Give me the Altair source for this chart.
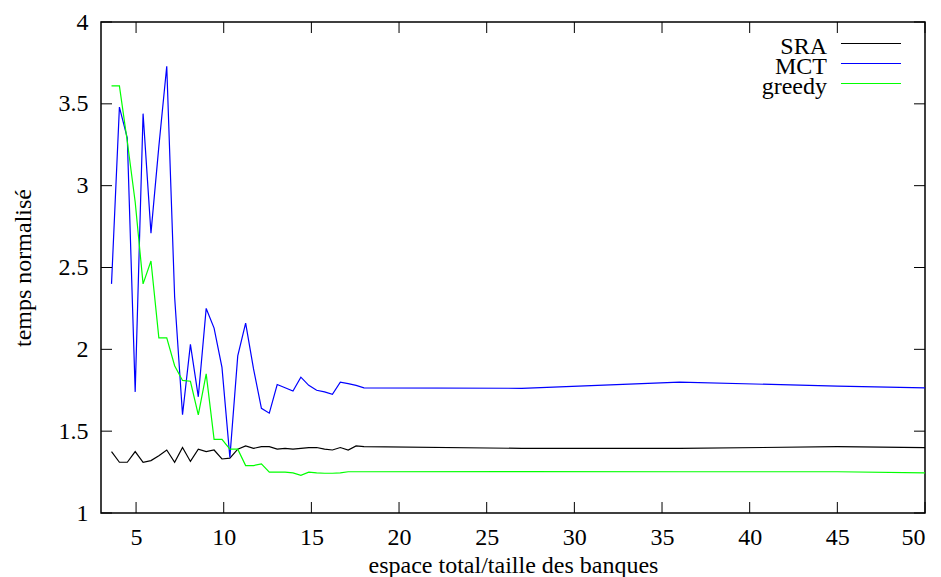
import altair as alt
import pandas as pd

# ---- data ----
x_vals = [3.6, 4.05, 4.5, 4.95, 5.4, 5.85, 6.3, 6.75, 7.2, 7.65, 8.1, 8.55, 9.0,
          9.45, 9.9, 10.35, 10.8, 11.25, 11.7, 12.15, 12.6, 13.05, 13.5, 13.95,
          14.4, 14.85, 15.3, 15.75, 16.2, 16.65, 17.1, 17.55, 18.0, 27, 36, 45, 50]

sra = [1.375, 1.31, 1.31, 1.375, 1.31, 1.32, 1.35, 1.385, 1.31, 1.40, 1.315, 1.39,
       1.375, 1.385, 1.33, 1.335, 1.39, 1.41, 1.395, 1.405, 1.405, 1.39, 1.395,
       1.39, 1.395, 1.40, 1.40, 1.39, 1.385, 1.40, 1.385, 1.41, 1.405,
       1.395, 1.395, 1.405, 1.40]

mct = [2.40, 3.48, 3.29, 1.74, 3.44, 2.71, 3.24, 3.73, 2.32, 1.60, 2.03, 1.71,
       2.25, 2.13, 1.89, 1.34, 1.96, 2.16, 1.88, 1.64, 1.61, 1.785, 1.765, 1.745,
       1.83, 1.78, 1.75, 1.74, 1.725, 1.80, 1.79, 1.78, 1.765,
       1.762, 1.80, 1.775, 1.765]

greedy = [3.61, 3.61, 3.27, 2.90, 2.40, 2.54, 2.07, 2.07, 1.90, 1.81, 1.805, 1.60,
          1.85, 1.45, 1.45, 1.39, 1.39, 1.29, 1.29, 1.30, 1.25, 1.25, 1.25, 1.245,
          1.23, 1.25, 1.245, 1.243, 1.243, 1.245, 1.252, 1.252, 1.252,
          1.253, 1.252, 1.252, 1.245]

series_names = ["SRA", "MCT", "greedy"]
series_colors = ["#000000", "#0000ff", "#00ff00"]

x_ticks = [5, 10, 15, 20, 25, 30, 35, 40, 45, 50]
y_ticks = [1, 1.5, 2, 2.5, 3, 3.5, 4]

x_title = "espace total/taille des banques"
y_title = "temps normalisé"

# ---- layout ----
W, H = 824, 491
TICK = 11
FONT = "Liberation Serif"

rows = []
for name, vals in zip(series_names, [sra, mct, greedy]):
    for xv, yv in zip(x_vals, vals):
        rows.append({"series": name, "x": xv, "y": yv})
df = pd.DataFrame(rows)

xscale = alt.Scale(domain=[3, 50], nice=False, zero=False)
yscale = alt.Scale(domain=[1, 4], nice=False, zero=False)

x_axis = alt.Axis(values=x_ticks, title=x_title, labelPadding=12,
                  titleBaseline="alphabetic", titleY=59)
y_axis = alt.Axis(values=y_ticks, format="~g", title=y_title, labelPadding=13,
                  titleAngle=270, titleBaseline="alphabetic", titleAlign="center",
                  titleX=-71, titleY=H / 2)

lines = alt.Chart(df).mark_line(strokeWidth=1.2).encode(
    x=alt.X("x:Q", scale=xscale, axis=x_axis),
    y=alt.Y("y:Q", scale=yscale, axis=y_axis),
    color=alt.Color("series:N", scale=alt.Scale(domain=series_names, range=series_colors),
                    legend=None),
)

xt = pd.DataFrame({"x": x_ticks})
yt = pd.DataFrame({"y": y_ticks})

tick_layers = [
    alt.Chart(xt).mark_rule(strokeWidth=1).encode(
        x=alt.X("x:Q", scale=xscale), y=alt.value(H), y2=alt.value(H - TICK),
        color=alt.value("black")),
    alt.Chart(xt).mark_rule(strokeWidth=1).encode(
        x=alt.X("x:Q", scale=xscale), y=alt.value(0), y2=alt.value(TICK),
        color=alt.value("black")),
    alt.Chart(yt).mark_rule(strokeWidth=1).encode(
        y=alt.Y("y:Q", scale=yscale), x=alt.value(0), x2=alt.value(TICK),
        color=alt.value("black")),
    alt.Chart(yt).mark_rule(strokeWidth=1).encode(
        y=alt.Y("y:Q", scale=yscale), x=alt.value(W), x2=alt.value(W - TICK),
        color=alt.value("black")),
]

legend_layers = []
for i, (name, col) in enumerate(zip(series_names, series_colors)):
    ld = pd.DataFrame({"series": [name]})
    legend_layers.append(
        alt.Chart(ld).mark_text(align="right", baseline="alphabetic", font=FONT,
                                fontSize=24).encode(
            text="series:N", x=alt.value(726), y=alt.value(32 + 20 * i),
            color=alt.value("black")))
    legend_layers.append(
        alt.Chart(ld).mark_rule(strokeWidth=1.2).encode(
            x=alt.value(740), x2=alt.value(800), y=alt.value(21.5 + 20 * i),
            color=alt.value(col)))

chart = alt.layer(lines, *tick_layers, *legend_layers).properties(
    width=W, height=H,
    autosize=alt.AutoSizeParams(type="none"),
    padding={"left": 101, "top": 22, "right": 16, "bottom": 64},
    background="white",
).configure_view(
    stroke="black", strokeWidth=1.5
).configure_axis(
    grid=False, ticks=False, tickSize=0, domain=False,
    labelFont=FONT, labelFontSize=24, labelColor="black",
    titleFont=FONT, titleFontSize=24, titleFontWeight="normal", titleColor="black",
)

chart.save("out.html", embed_options={"renderer": "svg", "actions": False})
